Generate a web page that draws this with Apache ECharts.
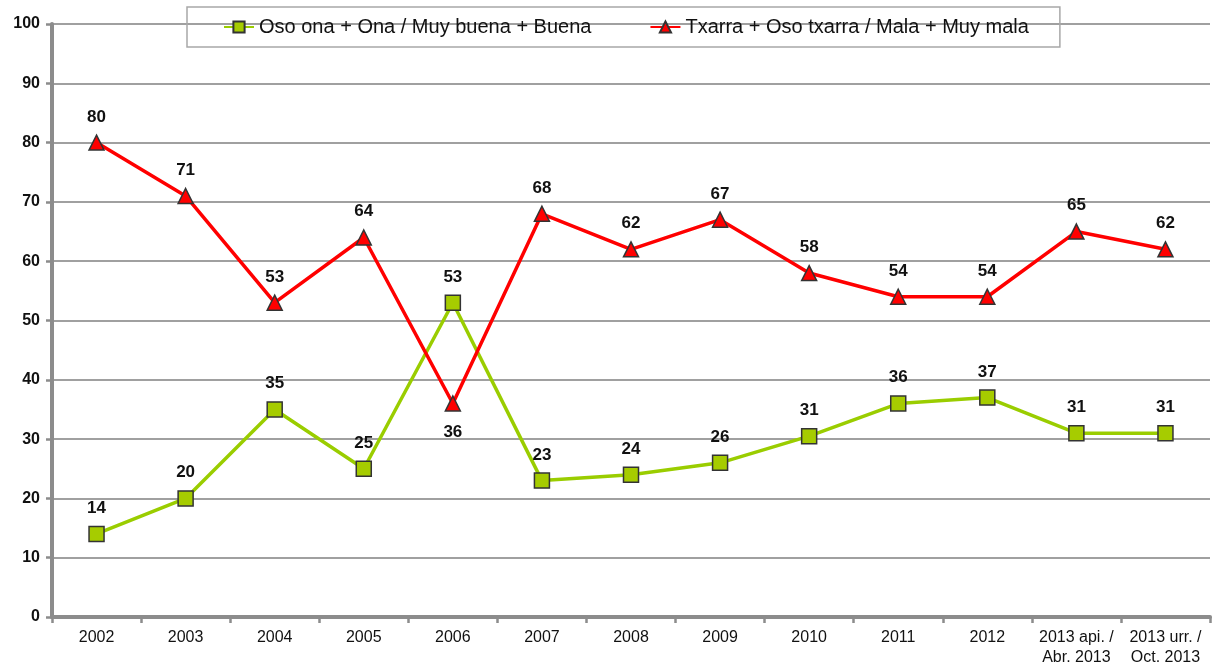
<!DOCTYPE html>
<html>
<head>
<meta charset="utf-8">
<script src="https://cdn.jsdelivr.net/npm/echarts@6/dist/echarts.min.js"></script>
<style>
  html, body { margin: 0; padding: 0; background: #fff; }
  #chart { width: 1215px; height: 670px; }
</style>
</head>
<body>
<div id="chart"></div>
<script>
var categories = ['2002', '2003', '2004', '2005', '2006', '2007', '2008', '2009', '2010', '2011', '2012',
  '2013 api. /\nAbr. 2013', '2013 urr. /\nOct. 2013'];
var onaName = 'Oso ona + Ona / Muy buena + Buena';
var txarraName = 'Txarra + Oso txarra / Mala + Muy mala';
var onaValues = [14, 20, 35, 25, 53, 23, 24, 26, 30.5, 36, 37, 31, 31];
var txarraValues = [80, 71, 53, 64, 36, 68, 62, 67, 58, 54, 54, 65, 62];
var txarraBelow = [4]; // 2006 label sits under the point

var chart = echarts.init(document.getElementById('chart'));

var labelStyle = {
    show: true,
    position: 'top',
    distance: 9,
    fontFamily: 'Liberation Sans',
    fontWeight: 'bold',
    fontSize: 17,
    color: '#111',
    formatter: function (p) { return Math.round(p.value); }
};

var option = {
    animation: false,
    textStyle: { fontFamily: 'Liberation Sans' },
    legend: {
        top: 7,
        left: 187,
        padding: [10, 31, 10, 36],
        itemGap: 58,
        itemWidth: 30,
        itemHeight: 14,
        borderColor: '#a8a8a8',
        borderWidth: 1.5,
        textStyle: { fontSize: 20, color: '#111' },
        data: [onaName, txarraName]
    },
    grid: { left: 52, right: 5, top: 24, bottom: 53 },
    xAxis: {
        type: 'category',
        data: categories,
        boundaryGap: true,
        axisLine: { lineStyle: { color: '#8c8c8c', width: 4 } },
        axisTick: { show: true, length: 6, lineStyle: { color: '#8c8c8c', width: 2.5 } },
        axisLabel: { fontSize: 16, color: '#111', margin: 11, lineHeight: 20, interval: 0 }
    },
    yAxis: {
        type: 'value',
        min: 0,
        max: 100,
        interval: 10,
        axisLine: { show: true, lineStyle: { color: '#8c8c8c', width: 4 } },
        axisTick: { show: true, length: 6, lineStyle: { color: '#8c8c8c', width: 2.5 } },
        axisLabel: { fontSize: 16, fontWeight: 'bold', color: '#111', margin: 12 },
        splitLine: { lineStyle: { color: '#a0a0a0', width: 2 } }
    },
    series: [
        {
            name: onaName,
            type: 'line',
            data: onaValues,
            symbol: 'rect',
            symbolSize: 15,
            lineStyle: { color: '#9acd00', width: 3.5 },
            itemStyle: { color: '#a6cc00', borderColor: '#333', borderWidth: 1.5 },
            label: labelStyle
        },
        {
            name: txarraName,
            type: 'line',
            data: txarraValues.map(function (v, i) {
                if (txarraBelow.indexOf(i) >= 0) {
                    return { value: v, label: { position: 'bottom', distance: 12 } };
                }
                return v;
            }),
            symbol: 'triangle',
            symbolSize: 15,
            lineStyle: { color: '#ff0000', width: 3.5 },
            itemStyle: { color: '#ff0000', borderColor: '#333', borderWidth: 1.5 },
            label: labelStyle
        }
    ]
};

chart.setOption(option);
</script>
</body>
</html>
